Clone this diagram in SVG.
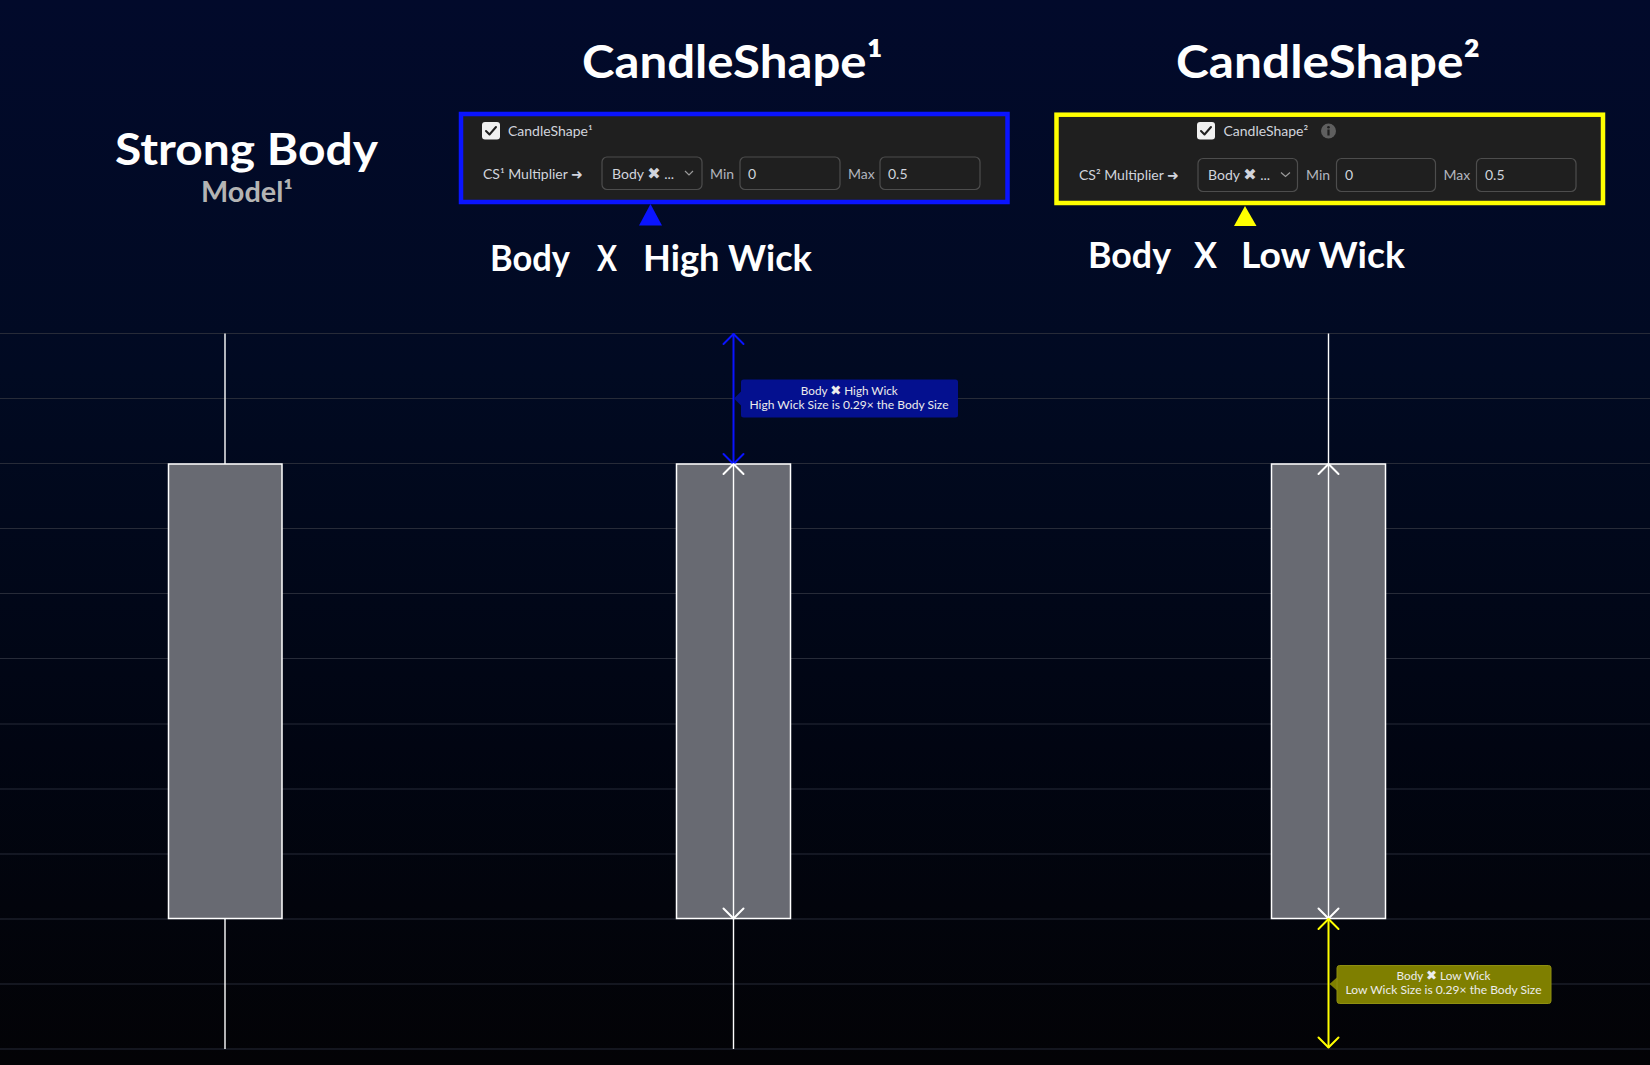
<svg xmlns="http://www.w3.org/2000/svg" width="1650" height="1065" viewBox="0 0 1650 1065">
  <defs>
    <linearGradient id="bg" x1="0" y1="0" x2="0" y2="1">
      <stop offset="0" stop-color="#020a2b"/>
      <stop offset="0.35" stop-color="#010a22"/>
      <stop offset="0.7" stop-color="#010512"/>
      <stop offset="1" stop-color="#030306"/>
    </linearGradient>
    <style>
      .title { font-family: Lato, "DejaVu Sans", sans-serif; font-weight: 700; fill: #ffffff; }
      .ui { font-family: Lato, "DejaVu Sans", sans-serif; font-size: 14px; fill: #d1d4dc; }
      .uidim { font-family: Lato, "DejaVu Sans", sans-serif; font-size: 14px; fill: #b2b5be; }
      .tip { font-family: Lato, "DejaVu Sans", sans-serif; font-size: 12px; fill: #ececec; text-anchor: middle; }
      .x { font-family: "DejaVu Sans", sans-serif; font-weight: 700; }
      .grid line { stroke: #272b38; stroke-width: 1; }
      .panel { fill: #1f1f1f; stroke-width: 4.5; }
      .field { fill: #1f1f1f; stroke: #4d4d4d; stroke-width: 1.2; }
      .check { fill: #f0f0f0; }
      .tick { fill: none; stroke: #1f1f1f; stroke-width: 2; stroke-linecap: round; stroke-linejoin: round; }
      .chev { fill: none; stroke: #9a9a9a; stroke-width: 1.2; }
      .body { fill: #686a72; stroke: #ffffff; stroke-width: 1.5; }
      .wick { stroke: #ffffff; stroke-width: 1.4; fill: none; }
      .head { fill: none; stroke-width: 2; stroke-linecap: round; stroke-linejoin: round; }
    </style>
  </defs>

  <rect id="background" x="0" y="0" width="1650" height="1065" fill="url(#bg)"/>

  <g id="grid" class="grid">
    <line x1="0" y1="333.5" x2="1650" y2="333.5"/>
    <line x1="0" y1="398.5" x2="1650" y2="398.5"/>
    <line x1="0" y1="463.5" x2="1650" y2="463.5"/>
    <line x1="0" y1="528.5" x2="1650" y2="528.5"/>
    <line x1="0" y1="593.5" x2="1650" y2="593.5"/>
    <line x1="0" y1="658.5" x2="1650" y2="658.5"/>
    <line x1="0" y1="724" x2="1650" y2="724"/>
    <line x1="0" y1="789" x2="1650" y2="789"/>
    <line x1="0" y1="854" x2="1650" y2="854"/>
    <line x1="0" y1="919" x2="1650" y2="919"/>
    <line x1="0" y1="984" x2="1650" y2="984"/>
    <line x1="0" y1="1049" x2="1650" y2="1049"/>
  </g>

  <g id="titles">
    <text class="title" x="115" y="165" font-size="43" textLength="263" lengthAdjust="spacingAndGlyphs">Strong Body</text>
    <text class="title" x="201" y="201.7" font-size="28" style="fill:#b4b4b4" textLength="92" lengthAdjust="spacingAndGlyphs">Model¹</text>
    <text class="title" x="582" y="78.3" font-size="46" textLength="301" lengthAdjust="spacingAndGlyphs">CandleShape¹</text>
    <text class="title" x="1176" y="78" font-size="46" textLength="304" lengthAdjust="spacingAndGlyphs">CandleShape²</text>
  </g>

  <g id="label-high" class="title" font-size="36">
    <text x="490" y="270.7" textLength="80" lengthAdjust="spacingAndGlyphs">Body</text>
    <text x="597" y="270.7" textLength="20" lengthAdjust="spacingAndGlyphs">X</text>
    <text x="643" y="270.7" textLength="169" lengthAdjust="spacingAndGlyphs">High Wick</text>
  </g>
  <g id="label-low" class="title" font-size="36">
    <text x="1088" y="268.3" textLength="83" lengthAdjust="spacingAndGlyphs">Body</text>
    <text x="1194" y="268.3" textLength="23" lengthAdjust="spacingAndGlyphs">X</text>
    <text x="1241" y="268.3" textLength="164" lengthAdjust="spacingAndGlyphs">Low Wick</text>
  </g>

  <g id="panel-cs1">
    <rect class="panel" x="461" y="114" width="546.5" height="88" stroke="#0a14ff"/>
    <rect class="check" x="482" y="122" width="18" height="17.5" rx="3"/>
    <polyline class="tick" points="486,131 489.5,134.5 496,127"/>
    <text class="ui" x="508" y="135.5">CandleShape¹</text>
    <text class="ui" x="483" y="178.5">CS¹ Multiplier <tspan class="x" font-size="14">➜</tspan></text>
    <rect class="field" x="602" y="157" width="100" height="32.5" rx="5"/>
    <text class="ui" x="612" y="178.5">Body <tspan class="x" font-size="16">✖</tspan> ...</text>
    <polyline class="chev" points="685,171 689,175 693,171"/>
    <text class="uidim" x="710" y="178.5">Min</text>
    <rect class="field" x="740" y="157" width="100" height="32.5" rx="5"/>
    <text class="ui" x="748" y="178.5">0</text>
    <text class="uidim" x="848" y="178.5">Max</text>
    <rect class="field" x="880" y="157" width="100" height="32.5" rx="5"/>
    <text class="ui" x="888" y="178.5">0.5</text>
    <polygon points="650.5,204 639,225.5 662,225.5" fill="#0a14ff"/>
  </g>

  <g id="panel-cs2">
    <rect class="panel" x="1056.5" y="114.7" width="546.5" height="88.3" stroke="#ffff00"/>
    <rect class="check" x="1197" y="122" width="18" height="17.5" rx="3"/>
    <polyline class="tick" points="1201,131 1204.5,134.5 1211,127"/>
    <text class="ui" x="1223.5" y="135.5">CandleShape²</text>
    <circle cx="1328.5" cy="131" r="7.5" fill="#5f5f5f"/>
    <circle cx="1328.5" cy="127.3" r="1.3" fill="#1f1f1f"/>
    <rect x="1327.4" y="129.5" width="2.2" height="6" fill="#1f1f1f"/>
    <text class="ui" x="1079" y="180">CS² Multiplier <tspan class="x" font-size="14">➜</tspan></text>
    <rect class="field" x="1198" y="158.5" width="99.5" height="33" rx="5"/>
    <text class="ui" x="1208" y="180">Body <tspan class="x" font-size="16">✖</tspan> ...</text>
    <polyline class="chev" points="1281,172.5 1285.5,176.5 1290,172.5"/>
    <text class="uidim" x="1306" y="180">Min</text>
    <rect class="field" x="1336.5" y="158.5" width="99" height="33" rx="5"/>
    <text class="ui" x="1345" y="180">0</text>
    <text class="uidim" x="1443.5" y="180">Max</text>
    <rect class="field" x="1476.5" y="158.5" width="99.5" height="33" rx="5"/>
    <text class="ui" x="1485" y="180">0.5</text>
    <polygon points="1245,206 1234,226 1256.5,226" fill="#ffff00"/>
  </g>

  <g id="candle-1">
    <line class="wick" x1="225" y1="333.5" x2="225" y2="464"/>
    <line class="wick" x1="225" y1="918.5" x2="225" y2="1049"/>
    <rect class="body" x="168.5" y="464" width="113.5" height="454.5"/>
  </g>

  <g id="candle-2">
    <rect class="body" x="676.5" y="464" width="114" height="454.5"/>
  </g>

  <g id="candle-3">
    <rect class="body" x="1271.5" y="464" width="114" height="454.5"/>
  </g>

  <g id="connectors">
    <line x1="733.5" y1="333.5" x2="733.5" y2="464" stroke="#0a14ff" stroke-width="2"/>
    <polyline class="head" stroke="#0a14ff" points="723.5,344 733.5,334 743.5,344"/>
    <polyline class="head" stroke="#0a14ff" points="723.5,454 733.5,464 743.5,454"/>
    <line class="wick" x1="733.5" y1="464" x2="733.5" y2="1049"/>
    <polyline class="head" stroke="#ffffff" points="723.5,474 733.5,464 743.5,474"/>
    <polyline class="head" stroke="#ffffff" points="723.5,908.5 733.5,918.5 743.5,908.5"/>
    <line class="wick" x1="1328.5" y1="333.5" x2="1328.5" y2="918.5"/>
    <polyline class="head" stroke="#ffffff" points="1318.5,474 1328.5,464 1338.5,474"/>
    <polyline class="head" stroke="#ffffff" points="1318.5,908.5 1328.5,918.5 1338.5,908.5"/>
    <line x1="1328.5" y1="918.5" x2="1328.5" y2="1048" stroke="#ffff00" stroke-width="2"/>
    <polyline class="head" stroke="#ffff00" points="1318.5,929 1328.5,919 1338.5,929"/>
    <polyline class="head" stroke="#ffff00" points="1318.5,1037.5 1328.5,1047.5 1338.5,1037.5"/>
  </g>

  <g id="tooltip-high">
    <polygon points="741.5,391 734,398.5 741.5,406" fill="#04108f"/>
    <rect x="741" y="379.5" width="217" height="38" rx="2.5" fill="#04108f"/>
    <text class="tip" x="849.3" y="395" textLength="97" lengthAdjust="spacingAndGlyphs">Body <tspan class="x" font-size="13.5">✖</tspan> High Wick</text>
    <text class="tip" x="849" y="408.5" textLength="199" lengthAdjust="spacingAndGlyphs">High Wick Size is 0.29× the Body Size</text>
  </g>

  <g id="tooltip-low">
    <polygon points="1337.5,977 1329.5,984 1337.5,991" fill="#7f7f00"/>
    <rect x="1337" y="965.5" width="214" height="38" rx="2.5" fill="#7f7f00" stroke="#8f8f10" stroke-width="1"/>
    <text class="tip" x="1443.5" y="980.3" textLength="94" lengthAdjust="spacingAndGlyphs">Body <tspan class="x" font-size="13.5">✖</tspan> Low Wick</text>
    <text class="tip" x="1443.5" y="993.8" textLength="196" lengthAdjust="spacingAndGlyphs">Low Wick Size is 0.29× the Body Size</text>
  </g>
</svg>
